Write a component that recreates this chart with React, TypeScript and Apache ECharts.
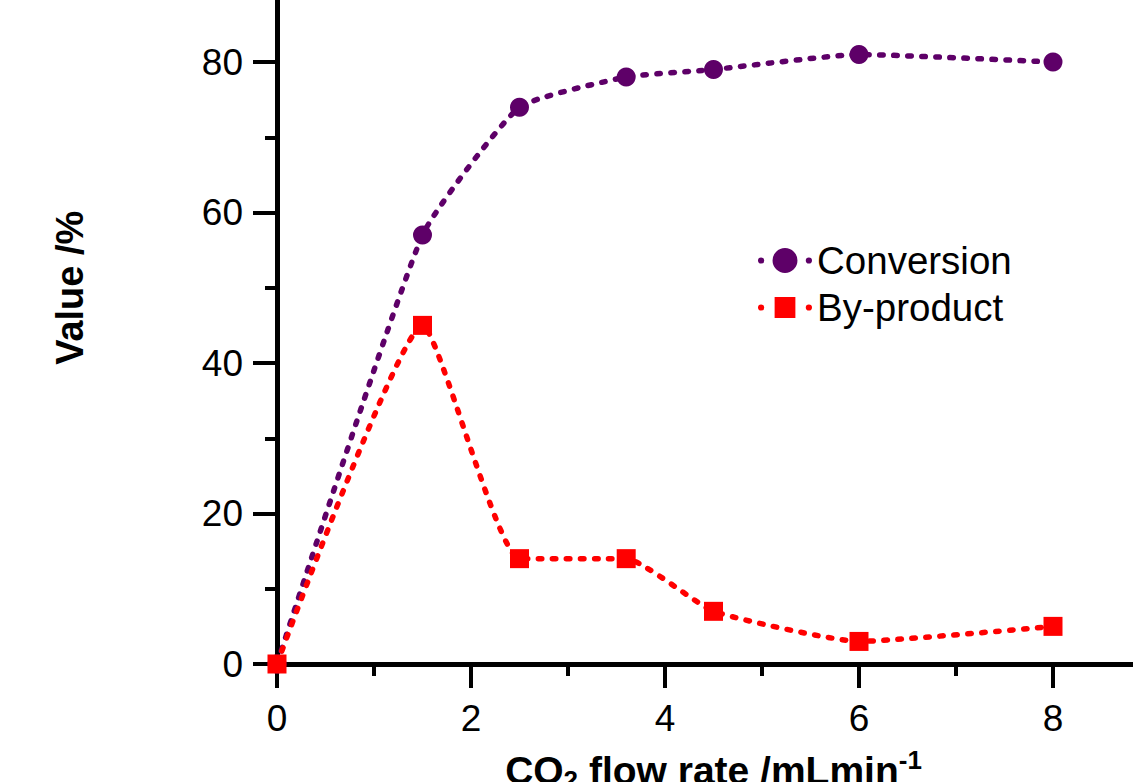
import React, { useEffect, useRef } from "react";
import * as echarts from "echarts";

const flowRate = [0, 1.5, 2.5, 3.6, 4.5, 6, 8];
const conversion = [0, 57, 74, 78, 79, 81, 80];
const byProduct = [0, 45, 14, 14, 7, 3, 5];
const seriesNames = ["Conversion", "By-product"];
const xAxisTitle = "CO{sub|2} flow rate /mLmin{sup|-1}";
const yAxisTitle = "Value /%";

const FONT = "'Liberation Sans', Arial, Helvetica, sans-serif";

const ICON_CIRCLE =
  "path://M0,12 a3,3 0 1,0 6,0 a3,3 0 1,0 -6,0 Z M14,12 a12,12 0 1,0 24,0 a12,12 0 1,0 -24,0 Z M46,12 a3,3 0 1,0 6,0 a3,3 0 1,0 -6,0 Z";
const ICON_SQUARE =
  "path://M26,0 L26.01,0 L26.01,0.01 Z M26,24 L26.01,24 L26.01,23.99 Z M0,12 a3,3 0 1,0 6,0 a3,3 0 1,0 -6,0 Z M16,2 L36,2 L36,22 L16,22 Z M46,12 a3,3 0 1,0 6,0 a3,3 0 1,0 -6,0 Z";

export default function App() {
  const ref = useRef<HTMLDivElement>(null);
  useEffect(() => {
    document.body.style.overflow = "hidden";
    const chart = echarts.init(ref.current!, null, { renderer: "svg" });
    const dotted = (color: string) => ({
      color,
      width: 5.5,
      type: [3.5, 10.5] as any,
      cap: "round" as const,
    });
    const axisCommon = {
      axisLine: { show: true, lineStyle: { color: "#000", width: 5 } },
      axisTick: { show: true, length: 24, lineStyle: { color: "#000", width: 4 } },
      minorTick: { show: true, splitNumber: 2, length: 12, lineStyle: { color: "#000", width: 4 } },
      splitLine: { show: false },
      minorSplitLine: { show: false },
    };
    chart.setOption({
      animation: false,
      backgroundColor: "#fff",
      grid: {
        left: 277,
        top: 11.5,
        width: 873,
        height: 752.5,
        containLabel: false,
        outerBoundsMode: "none",
      },
      legend: {
        orient: "vertical",
        left: 753,
        top: 335,
        itemWidth: 54,
        itemHeight: 25,
        itemGap: 6,
        itemTextGap: 16,
        textStyle: { fontSize: 38.5, fontFamily: FONT, color: "#000", lineHeight: 41 },
        data: [
          { name: seriesNames[0], icon: ICON_CIRCLE },
          { name: seriesNames[1], icon: ICON_SQUARE },
        ],
      },
      xAxis: {
        type: "value",
        min: 0,
        max: 9,
        interval: 2,
        name: xAxisTitle,
        nameLocation: "middle",
        nameGap: 83,
        nameTextStyle: {
          fontSize: 39,
          fontWeight: "bold",
          fontFamily: FONT,
          color: "#000",
          lineHeight: 46,
          rich: {
            sub: { fontSize: 26, fontWeight: "bold", fontFamily: FONT, color: "#000", verticalAlign: "bottom", lineHeight: 40 },
            sup: { fontSize: 26, fontWeight: "bold", fontFamily: FONT, color: "#000", verticalAlign: "top", lineHeight: 46 },
          },
        },
        axisLabel: { fontSize: 37, fontFamily: FONT, color: "#000", margin: 36, formatter: (v: number) => (v % 2 === 0 ? String(v) : "") },
        ...axisCommon,
      },
      yAxis: {
        type: "value",
        min: 0,
        max: 100,
        interval: 20,
        name: yAxisTitle,
        nameLocation: "middle",
        nameGap: 188,
        nameTextStyle: { fontSize: 38, fontWeight: "bold", fontFamily: FONT, color: "#000" },
        axisLabel: { fontSize: 37, fontFamily: FONT, color: "#000", margin: 34 },
        ...axisCommon,
      },
      series: [
        {
          name: seriesNames[0],
          type: "line",
          data: flowRate.map((x, i) => [x, conversion[i]]),
          smooth: 0.15,
          symbol: "circle",
          symbolSize: 19,
          clip: false,
          itemStyle: { color: "#5E0068" },
          lineStyle: dotted("#5E0068"),
        },
        {
          name: seriesNames[1],
          type: "line",
          data: flowRate.map((x, i) => [x, byProduct[i]]),
          smooth: 0.15,
          symbol: "rect",
          symbolSize: 19,
          clip: false,
          itemStyle: { color: "#FF0000" },
          lineStyle: dotted("#FF0000"),
        },
      ],
    });
    return () => chart.dispose();
  }, []);
  return (
    <div
      ref={ref}
      style={{ position: "absolute", left: 0, top: -100, width: 1260, height: 900 }}
    />
  );
}
